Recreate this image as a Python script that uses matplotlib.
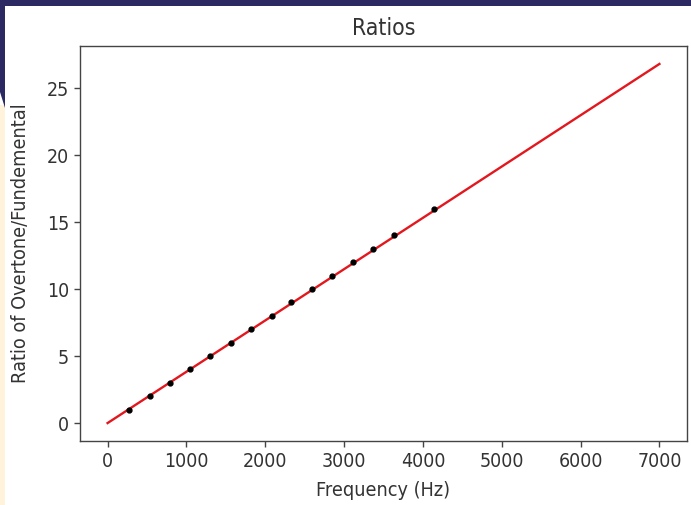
import matplotlib
matplotlib.use("Agg")
import matplotlib.pyplot as plt
from matplotlib.patches import Rectangle, Polygon

# Data
ratios = [1, 2, 3, 4, 5, 6, 7, 8, 9, 10, 11, 12, 13, 14, 16]
freqs = [268, 532, 790, 1040, 1300, 1560, 1815, 2080, 2330, 2595, 2850, 3110, 3370, 3635, 4140]
fit_x = [0, 7000]
fit_y = [0, 26.8]

title = "Ratios"
xlabel = "Frequency (Hz)"
ylabel = "Ratio of Overtone/Fundemental"

plt.rcParams["font.family"] = ["DejaVu Sans"]
plt.rcParams["font.stretch"] = "condensed"
plt.rcParams["text.color"] = "#333333"
plt.rcParams["axes.labelcolor"] = "#333333"

fig = plt.figure(figsize=(6.91, 5.05), dpi=100)
fig.patch.set_facecolor("white")

# screenshot frame decoration
navy = "#2b2862"
beige = "#fff3dc"
fig.patches.append(Rectangle((0, 1 - 6/505), 1, 6/505, transform=fig.transFigure,
                             facecolor=navy, edgecolor="none", zorder=0))
fig.patches.append(Rectangle((0, 0), 5/691, 1 - 105/505, transform=fig.transFigure,
                             facecolor=beige, edgecolor="none", zorder=0))
fig.patches.append(Polygon([(0, 1), (5/691, 1), (5/691, 1 - 108/505), (0, 1 - 92/505)],
                           closed=True, transform=fig.transFigure,
                           facecolor=navy, edgecolor="none", zorder=0))

ax = fig.add_axes([80/691, 1 - 441/505, (687 - 80)/691, (441 - 46)/505])
ax.plot(fit_x, fit_y, color="#e3171e", linewidth=1.7, zorder=2)
ax.plot(freqs, ratios, linestyle="none", marker=".", color="black", markersize=7, zorder=3)

fs = 14.2
ax.set_title(title, fontsize=16.5, pad=8)
ax.set_xlabel(xlabel, fontsize=fs, labelpad=7)
ax.set_ylabel(ylabel, fontsize=fs, labelpad=12)
ax.set_xticks([0, 1000, 2000, 3000, 4000, 5000, 6000, 7000])
ax.set_yticks([0, 5, 10, 15, 20, 25])
ax.tick_params(labelsize=14, length=4.3, width=1.0, color="#444444", labelcolor="#333333")
for s in ax.spines.values():
    s.set_linewidth(1.0)
    s.set_color("#444444")

fig.savefig("out.png", dpi=100)
